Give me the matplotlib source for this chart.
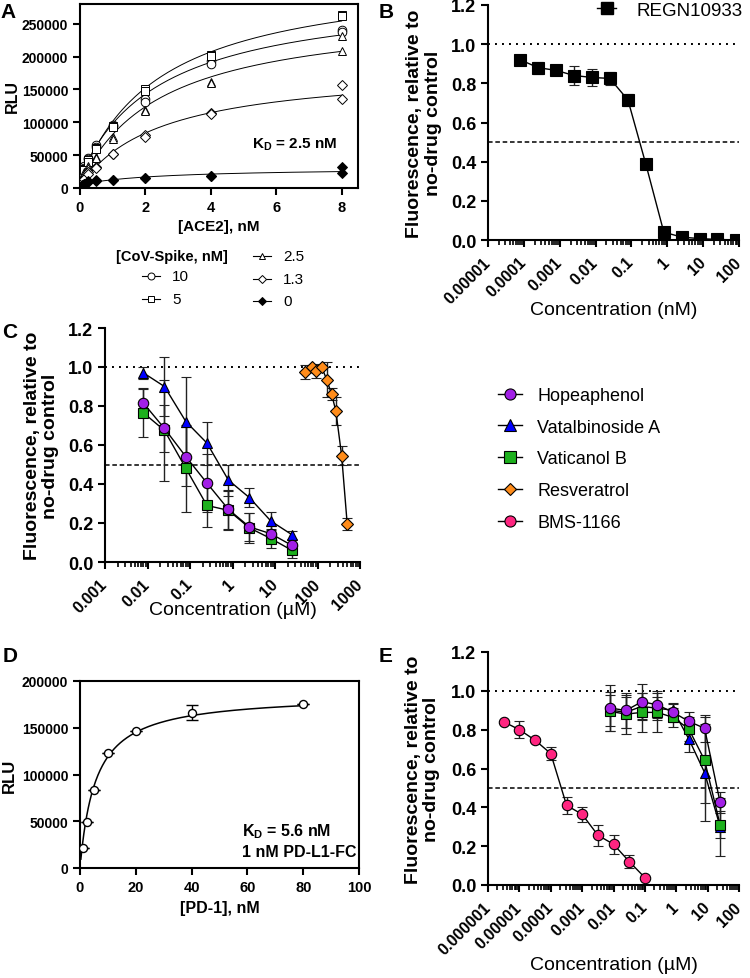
import numpy as np
import matplotlib
matplotlib.use('Agg')
import matplotlib.pyplot as plt
from matplotlib.lines import Line2D
from matplotlib.ticker import FixedLocator, LogLocator, NullFormatter

plt.rcParams['font.family'] = ['Liberation Sans', 'DejaVu Sans']
plt.rcParams['mathtext.fontset'] = 'custom'
plt.rcParams['mathtext.rm'] = 'Liberation Sans'
plt.rcParams['mathtext.bf'] = 'Liberation Sans:bold'
plt.rcParams['axes.linewidth'] = 1.5

# ---- panel A: spike / ACE2 binding ----
ace2_nm = [0.0625, 0.125, 0.25, 0.5, 1, 2, 4, 8]
spike_labels = ['10', '5', '2.5', '1.3', '0']
spike_10_rep1 = [27000, 34000, 46000, 66000, 96000, 136000, 194000, 241000]
spike_10_rep2 = [25000, 31000, 44000, 63000, 94000, 131000, 188000, 238000]
spike_5_rep1 = [24000, 29000, 42000, 61000, 95000, 151000, 203000, 264000]
spike_5_rep2 = [22000, 27000, 40000, 59000, 93000, 148000, 201000, 262000]
spike_2p5_rep1 = [17000, 24000, 34000, 47000, 77500, 119000, 162000, 232000]
spike_2p5_rep2 = [15000, 22000, 31000, 45000, 75000, 117000, 160000, 208000]
spike_1p3_rep1 = [9000, 14000, 24000, 32000, 52000, 80000, 114000, 156000]
spike_1p3_rep2 = [8000, 13000, 22000, 31000, 51000, 78000, 113000, 136000]
spike_0_rep1 = [4000, 6600, 10000, 11700, 12700, 15700, 19000, 32000]
spike_0_rep2 = [3500, 6000, 9000, 11000, 12000, 15000, 18000, 23000]
kd_spike = 2.5

# ---- panel B: REGN10933 ----
regn_conc_nm = [8e-5, 2.5e-4, 8e-4, 2.5e-3, 8e-3, 0.025, 0.08, 0.25, 0.8, 2.5, 8, 25, 80]
regn_mean = [0.92, 0.88, 0.866, 0.84, 0.83, 0.825, 0.715, 0.39, 0.04, 0.015, 0.007, 0.003, 0.0]
regn_sd = [0.015, 0.03, 0.015, 0.05, 0.045, 0.035, 0.03, 0.015, 0.01, 0.01, 0.01, 0.01, 0.005]
b_ticks = [1e-5, 1e-4, 1e-3, 1e-2, 1e-1, 1, 10, 100]
b_ticklabels = ['0.00001', '0.0001', '0.001', '0.01', '0.1', '1', '10', '100']

# ---- panel C: stilbenes on spike / ACE2 ----
stilbene_conc_um = [0.008, 0.025, 0.08, 0.25, 0.8, 2.5, 8, 25]
hopeaphenol_c = [0.815, 0.685, 0.54, 0.405, 0.27, 0.18, 0.145, 0.085]
hopeaphenol_c_sd = [0.07, 0.12, 0.15, 0.15, 0.1, 0.07, 0.04, 0.03]
vatalbinoside_c = [0.97, 0.90, 0.72, 0.61, 0.42, 0.33, 0.21, 0.14]
vatalbinoside_c_sd = [0.03, 0.15, 0.23, 0.11, 0.08, 0.05, 0.045, 0.02]
vaticanol_c = [0.765, 0.675, 0.48, 0.29, 0.265, 0.175, 0.12, 0.06]
vaticanol_c_sd = [0.125, 0.26, 0.225, 0.11, 0.1, 0.075, 0.05, 0.04]
resveratrol_conc_um = [50, 73, 92, 125, 165, 215, 270, 370, 500]
resveratrol_c = [0.975, 1.0, 0.978, 1.0, 0.935, 0.86, 0.775, 0.545, 0.195]
resveratrol_c_sd = [0.035, 0.01, 0.035, 0.01, 0.09, 0.03, 0.07, 0.05, 0.03]
c_ticks = [1e-3, 1e-2, 1e-1, 1, 10, 100, 1000]
c_ticklabels = ['0.001', '0.01', '0.1', '1', '10', '100', '1000']

# ---- panel D: PD-1 / PD-L1 binding ----
pd1_nm = [1.25, 2.5, 5, 10, 20, 40, 80]
pd1_rlu = [21000, 49000, 83000, 123000, 146000, 166000, 175000]
pd1_sd = [0, 0, 0, 0, 0, 8000, 0]
kd_pd1 = 5.6

# ---- panel E: PD-1 / PD-L1 inhibition ----
bms_conc_um = [3.2e-6, 1e-5, 3.2e-5, 1e-4, 3.2e-4, 1e-3, 3.2e-3, 0.01, 0.032, 0.1]
bms_e = [0.84, 0.80, 0.745, 0.677, 0.41, 0.364, 0.256, 0.21, 0.12, 0.038]
bms_e_sd = [0.005, 0.045, 0.01, 0.035, 0.045, 0.04, 0.055, 0.05, 0.035, 0.005]
hopeaphenol_e = [0.911, 0.899, 0.944, 0.928, 0.889, 0.843, 0.807, 0.425]
hopeaphenol_e_sd = [0.12, 0.09, 0.09, 0.07, 0.05, 0.05, 0.07, 0.055]
vatalbinoside_e = [0.90, 0.89, 0.92, 0.91, 0.90, 0.753, 0.579, 0.30]
vatalbinoside_e_sd = [0.08, 0.08, 0.07, 0.06, 0.03, 0.07, 0.25, 0.15]
vaticanol_e = [0.894, 0.88, 0.889, 0.889, 0.863, 0.804, 0.643, 0.31]
vaticanol_e_sd = [0.1, 0.1, 0.1, 0.1, 0.05, 0.06, 0.22, 0.07]
e_ticks = [1e-6, 1e-5, 1e-4, 1e-3, 1e-2, 1e-1, 1, 10, 100]
e_ticklabels = ['0.000001', '0.00001', '0.0001', '0.001', '0.01', '0.1', '1', '10', '100']

compound_names = ['Hopeaphenol', 'Vatalbinoside A', 'Vaticanol B', 'Resveratrol', 'BMS-1166']
compound_colors = ['#A21FE6', '#0000FF', '#1DB01D', '#FF8C1A', '#FF2580']
compound_markers = ['o', '^', 's', 'D', 'o']

W, H = 750, 979
fig = plt.figure(figsize=(7.5, 9.79), dpi=100)


def rect(x0, y0, x1, y1):
    return [x0 / W, 1 - y1 / H, (x1 - x0) / W, (y1 - y0) / H]


def style_log_axis(ax, ticks, labels, xlim):
    ax.set_xscale('log')
    ax.set_xlim(*xlim)
    ax.xaxis.set_major_locator(FixedLocator(ticks))
    ax.set_xticklabels(labels, rotation=45, ha='right', va='center', rotation_mode='anchor',
                       fontsize=11.5, fontweight='bold')
    ax.xaxis.set_minor_locator(LogLocator(base=10, subs=np.arange(2, 10), numticks=20))
    ax.xaxis.set_minor_formatter(NullFormatter())
    ax.set_ylim(0, 1.2)
    ax.set_yticks([0, 0.2, 0.4, 0.6, 0.8, 1.0, 1.2])
    ax.set_yticklabels(['0.0', '0.2', '0.4', '0.6', '0.8', '1.0', '1.2'],
                       fontsize=13, fontweight='bold')
    ax.spines['top'].set_visible(False)
    ax.spines['right'].set_visible(False)
    ax.tick_params(which='major', length=5, width=1.5)
    ax.tick_params(axis='x', which='major', pad=9)
    ax.tick_params(which='minor', length=3.5, width=1.2)
    ax.axhline(1.0, color='black', lw=1.4, ls=(0, (1, 2.6)), zorder=1)
    ax.axhline(0.5, color='black', lw=1.1, ls=(0, (3, 1.8)), zorder=1)
    ax.set_ylabel('Fluorescence, relative to\nno-drug control', fontsize=14, fontweight='bold',
                  linespacing=1.1)


def curve(ax, x, y, sd, color, marker, ms):
    ax.errorbar(x, y, yerr=sd, color='black', lw=1, marker=marker, ms=ms,
                mfc=color, mec='black', mew=0.8, ecolor='#222222', elinewidth=1,
                capsize=3.8, capthick=1, zorder=3)


# ---------------- A ----------------
axA = fig.add_axes(rect(80, 5, 358, 189))
a_series = [
    (spike_10_rep1, spike_10_rep2, 'o', 'white'),
    (spike_5_rep1, spike_5_rep2, 's', 'white'),
    (spike_2p5_rep1, spike_2p5_rep2, '^', 'white'),
    (spike_1p3_rep1, spike_1p3_rep2, 'D', 'white'),
    (spike_0_rep1, spike_0_rep2, 'D', 'black'),
]
x_arr = np.array(ace2_nm)
x_fit = np.linspace(0, 8, 200)
for rep1, rep2, mk, fc in a_series:
    xs = np.concatenate([x_arr, x_arr])
    ys = np.concatenate([rep1, rep2])
    f = xs / (kd_spike + xs)
    A = np.vstack([np.ones_like(f), f]).T
    coef, *_ = np.linalg.lstsq(A, ys, rcond=None)
    axA.plot(x_fit, coef[0] + coef[1] * x_fit / (kd_spike + x_fit), color='black', lw=0.7, zorder=2)
    ms = 4.8 if mk == 'D' else 6.2
    axA.plot(xs, ys, ls='none', marker=mk, ms=ms, mfc=fc, mec='black', mew=0.7, zorder=3)
axA.set_xlim(0, 8.5)
axA.set_ylim(0, 280000)
axA.set_xticks([0, 2, 4, 6, 8])
axA.set_yticks([0, 50000, 100000, 150000, 200000, 250000])
axA.set_xticklabels(['0', '2', '4', '6', '8'], fontsize=10.5, fontweight='bold')
axA.set_yticklabels(['0', '50000', '100000', '150000', '200000', '250000'], fontsize=10, fontweight='bold')
axA.tick_params(length=5, width=1.5)
axA.set_ylabel('RLU', fontsize=11.5, fontweight='bold')
axA.yaxis.set_label_coords(-0.215, 0.5)
axA.set_xlabel('[ACE2], nM', fontsize=11, fontweight='bold')
axA.xaxis.set_label_coords(0.5, -0.17)
axA.text(0.62, 0.24, r'$\mathbf{K_D}$ = 2.5 nM', transform=axA.transAxes, fontsize=11,
         fontweight='bold', ha='left', va='center')

# manual legend for A
fig.text(172 / W, 1 - 257 / H, '[CoV-Spike, nM]', fontsize=10.5, fontweight='bold', ha='center', va='center')
leg_pos = [(151, 277), (151, 300), (262, 257), (262, 280), (262, 302)]
for (px, py), (_, _, mk, fc), lab in zip(leg_pos, a_series, spike_labels):
    fy = 1 - py / H
    fig.add_artist(Line2D([(px - 9) / W, (px + 9) / W], [fy, fy], transform=fig.transFigure,
                          color='black', lw=0.8))
    fig.add_artist(Line2D([px / W], [fy], transform=fig.transFigure, ls='none', marker=mk,
                          ms=4 if mk == 'D' else 5, mfc=fc, mec='black', mew=0.7))
    fig.text((px + 21) / W, fy, lab, fontsize=11, ha='left', va='center')

# ---------------- B ----------------
axB = fig.add_axes(rect(488, 6, 739, 241))
style_log_axis(axB, b_ticks, b_ticklabels, (1e-5, 100))
curve(axB, regn_conc_nm, regn_mean, regn_sd, 'black', 's', 8)
axB.yaxis.set_label_coords(-0.185, 0.5)
axB.set_xlabel('Concentration (nM)', fontsize=14)
axB.xaxis.set_label_coords(0.5, -0.26)
hB = Line2D([], [], color='black', lw=1, marker='s', ms=8, mfc='black', mec='black')
fig.legend([hB], ['REGN10933'], loc='center left', bbox_to_anchor=(588 / W, 1 - 11 / H),
           frameon=False, fontsize=13.5, handlelength=1.0, handletextpad=1.1, borderpad=0)

# ---------------- C ----------------
axC = fig.add_axes(rect(105, 329, 360, 563))
style_log_axis(axC, c_ticks, c_ticklabels, (1e-3, 1000))
curve(axC, resveratrol_conc_um, resveratrol_c, resveratrol_c_sd, compound_colors[3], 'D', 6)
curve(axC, stilbene_conc_um, vatalbinoside_c, vatalbinoside_c_sd, compound_colors[1], '^', 7.5)
curve(axC, stilbene_conc_um, vaticanol_c, vaticanol_c_sd, compound_colors[2], 's', 7)
curve(axC, stilbene_conc_um, hopeaphenol_c, hopeaphenol_c_sd, compound_colors[0], 'o', 7.5)
axC.yaxis.set_label_coords(-0.18, 0.5)
axC.set_xlabel('Concentration (\u00b5M)', fontsize=14)
axC.xaxis.set_label_coords(0.5, -0.165)

handles = [Line2D([], [], color='black', lw=1, marker=m, ms=(6 if m == 'D' else 8), mfc=c, mec='black', mew=0.8)
           for m, c in zip(compound_markers, compound_colors)]
fig.legend(handles, compound_names, loc='center left', bbox_to_anchor=(489 / W, 1 - 460 / H),
           frameon=False, fontsize=13, handlelength=1.33, handletextpad=0.85,
           labelspacing=0.82, borderpad=0)

# ---------------- D ----------------
axD = fig.add_axes(rect(80, 682, 359, 869))
xd = np.array(pd1_nm)
fd = xd / (kd_pd1 + xd)
bmax_d = np.sum(fd * np.array(pd1_rlu)) / np.sum(fd * fd)
xd_fit = np.linspace(0.3, 80, 300)
axD.plot(xd_fit, bmax_d * xd_fit / (kd_pd1 + xd_fit), color='black', lw=1.1, zorder=2)
axD.errorbar(pd1_nm, pd1_rlu, yerr=pd1_sd, ls='none', marker='o', ms=5.8, mfc='white', mec='black',
             mew=1, ecolor='black', elinewidth=1, capsize=4, capthick=1, zorder=3)
axD.set_xlim(0, 100)
axD.set_ylim(0, 200000)
axD.set_xticks([0, 20, 40, 60, 80, 100])
axD.set_yticks([0, 50000, 100000, 150000, 200000])
axD.set_xticklabels(['0', '20', '40', '60', '80', '100'], fontsize=10.5, fontweight='bold')
axD.set_yticklabels(['0', '50000', '100000', '150000', '200000'], fontsize=10, fontweight='bold')
axD.tick_params(length=5, width=1.5)
axD.set_ylabel('RLU', fontsize=12, fontweight='bold')
axD.yaxis.set_label_coords(-0.225, 0.5)
axD.set_xlabel('[PD-1], nM', fontsize=11.5, fontweight='bold')
axD.xaxis.set_label_coords(0.5, -0.17)
axD.text(0.58, 0.198, r'$\mathbf{K_D}$ = 5.6 nM', transform=axD.transAxes, fontsize=11.5,
         fontweight='bold', ha='left', va='center')
axD.text(0.58, 0.086, '1 nM PD-L1-FC', transform=axD.transAxes, fontsize=11.5,
         fontweight='bold', ha='left', va='center')

# ---------------- E ----------------
axE = fig.add_axes(rect(488, 653, 739, 886))
style_log_axis(axE, e_ticks, e_ticklabels, (1e-6, 100))
curve(axE, bms_conc_um, bms_e, bms_e_sd, compound_colors[4], 'o', 7.5)
curve(axE, stilbene_conc_um, vatalbinoside_e, vatalbinoside_e_sd, compound_colors[1], '^', 7.5)
curve(axE, stilbene_conc_um, vaticanol_e, vaticanol_e_sd, compound_colors[2], 's', 7)
curve(axE, stilbene_conc_um, hopeaphenol_e, hopeaphenol_e_sd, compound_colors[0], 'o', 7.5)
axE.yaxis.set_label_coords(-0.19, 0.5)
axE.set_xlabel('Concentration (\u00b5M)', fontsize=14)
axE.xaxis.set_label_coords(0.5, -0.305)

# panel letters
for letter, px, py in [('A', 8, 12), ('B', 386, 12), ('C', 10, 333), ('D', 10, 657), ('E', 386, 657)]:
    fig.text(px / W, 1 - py / H, letter, fontsize=15, fontweight='bold', ha='center', va='center')

fig.savefig('out.png', dpi=100)
